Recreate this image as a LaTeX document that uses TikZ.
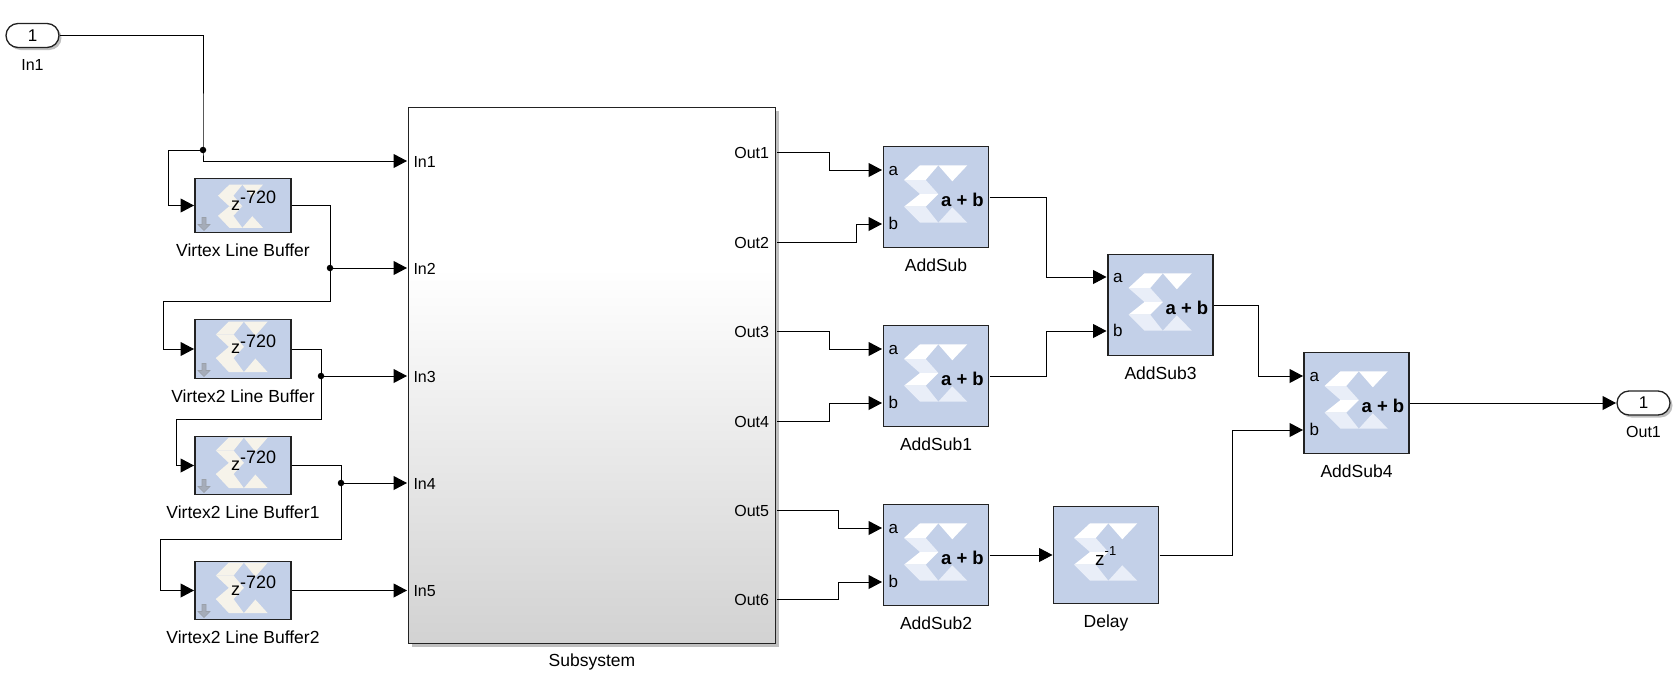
\documentclass[tikz,border=0pt]{standalone}
\usepackage{fontspec}
\setmainfont{Liberation Sans}
\usetikzlibrary{arrows.meta,positioning,shadows,shapes.misc}

\definecolor{blockblue}{HTML}{C3D0E8}
\definecolor{logolight}{HTML}{E9EEF8}
\definecolor{logocream}{HTML}{F6F3EA}
\definecolor{frame}{HTML}{222222}
\definecolor{subgray}{HTML}{D2D2D2}
\pgfdeclareverticalshading{subfade}{100bp}{
  color(0bp)=(subgray); color(25bp)=(subgray); color(60bp)=(white); color(100bp)=(white)}

\tikzset{
  pics/xlogo/.style 2 args={code={
    \fill[#1] (-16,-31.7) -- (2.3,-31.7) -- (-10.3,-17) -- (-32,-17) -- cycle;
    \fill[#2] (-32,-17) -- (-10.3,-17) -- (2.3,-3) -- (-16,-3) -- cycle;
    \fill[#1] (-16,-3) -- (2.3,-3) -- (-10.3,9.7) -- (-32,9.7) -- cycle;
    \fill[#2] (-32,9.7) -- (-10.3,9.7) -- (2.3,25.7) -- (-16,25.7) -- cycle;
    \fill[#1] (2.3,-31.7) -- (31.3,-31.7) -- (16.3,-15.7) -- cycle;
    \fill[#2] (2.3,25.7) -- (31.3,25.7) -- (16.3,10.3) -- cycle;
  }},
  pics/droparrow/.style={code={
    \filldraw[fill=gray!45!blockblue,draw=gray!60!blockblue,line width=.6pt]
      (7,-15) -- (11,-15) -- (11,-8) -- (15,-8) -- (9,-2) -- (3,-8) -- (7,-8) -- cycle;
  }},
}

\begin{document}
\begin{tikzpicture}[x=1pt,y=-1pt,>={Triangle[length=13.5pt,width=14pt]}]
  \useasboundingbox (0,0) rectangle (1674,696);
  \begin{scope}[
    every node/.style={
      draw=frame,
      fill=blockblue,
      line width=1.8pt,
      inner sep=0pt,
      outer sep=0pt,
    },
    ]
    \node[minimum width=96pt,minimum height=54pt] (buffer)  at (243,205.5) {};
    \node[minimum width=96pt,minimum height=59pt] (buffer2) at (243,349) {};
    \node[minimum width=96pt,minimum height=58pt] (buffer3) at (243,465.5) {};
    \node[minimum width=96pt,minimum height=58pt] (buffer4) at (243,590.5) {};
    \node[minimum width=105pt,minimum height=101pt] (addsub)  at (936,197) {};
    \node[minimum width=105pt,minimum height=101pt] (addsub1) at (936,376) {};
    \node[minimum width=105pt,minimum height=101pt] (addsub2) at (936,555) {};
    \node[minimum width=105pt,minimum height=101pt] (addsub3) at (1160.5,305) {};
    \node[minimum width=105pt,minimum height=101pt] (addsub4) at (1356.5,403) {};
    \node[minimum width=105pt,minimum height=97pt]  (delay)   at (1106,555) {};
  \end{scope}
  \node[
    draw=frame,line width=1.3pt,inner sep=0pt,outer sep=0pt,
    minimum width=367pt,minimum height=536pt,
    shading=subfade,
    drop shadow={shadow xshift=3pt,shadow yshift=-3pt,fill=gray,opacity=.5},
  ] (subsystem) at (592,375.5) {};
  \begin{scope}[
    every node/.style={
      rounded rectangle,
      draw=frame,
      fill=white,
      line width=1.3pt,
      minimum width=53pt,
      minimum height=24pt,
      inner sep=0pt,
      outer sep=0pt,
      font=\fontsize{17}{20}\selectfont,
      drop shadow={shadow xshift=2.5pt,shadow yshift=-2.5pt,fill=gray,opacity=.5},
    },
    ]
    \node (port-in)  at (32.5,35.5) {1};
    \node (port-out) at (1643.5,403) {1};
  \end{scope}
  % logos under the block texts
  \pic[xscale=.71,yscale=.75] at (240.7,208.5) {xlogo={logocream}{logocream}};
  \pic[xscale=.82,yscale=.88] at (242,349.5) {xlogo={logocream}{logocream}};
  \pic[xscale=.82,yscale=.88] at (242,465.5) {xlogo={logocream}{logocream}};
  \pic[xscale=.82,yscale=.88] at (242,590.5) {xlogo={logocream}{logocream}};
  \pic at (addsub)  {xlogo={white}{logolight}};
  \pic at (addsub1) {xlogo={white}{logolight}};
  \pic at (addsub2) {xlogo={white}{logolight}};
  \pic at (addsub3) {xlogo={white}{logolight}};
  \pic at (addsub4) {xlogo={white}{logolight}};
  \pic at (delay)   {xlogo={white}{logolight}};
  \pic at (buffer.south west)  {droparrow};
  \pic at (buffer2.south west) {droparrow};
  \pic at (buffer3.south west) {droparrow};
  \pic at (buffer4.south west) {droparrow};
  \begin{scope}[
    every node/.style={
      anchor=base west,
      inner sep=0pt,
      font=\fontsize{18}{20}\selectfont,
    },
    ]
    \node (buffer-z)  at ([shift={(-12,4.5)}]buffer.center)  {z\raisebox{6.5pt}{-720}};
    \node (buffer2-z) at ([shift={(-12,4.5)}]buffer2.center) {z\raisebox{6.5pt}{-720}};
    \node (buffer3-z) at ([shift={(-12,4.5)}]buffer3.center) {z\raisebox{6.5pt}{-720}};
    \node (buffer4-z) at ([shift={(-12,4.5)}]buffer4.center) {z\raisebox{6.5pt}{-720}};
    \node (delay-z) at ([shift={(-11,10.5)}]delay.center)
    {\fontsize{19}{20}\selectfont z\raisebox{10pt}{\fontsize{13}{14}\selectfont -1}};
  \end{scope}
  \begin{scope}[
    every node/.style={
      anchor=base east,
      inner sep=0pt,
      font=\fontsize{18.5}{20}\selectfont\bfseries,
    },
    ]
    \node (addsub-sum)  at ([shift={(48,9)}]addsub.center)  {a + b};
    \node (addsub1-sum) at ([shift={(48,9)}]addsub1.center) {a + b};
    \node (addsub2-sum) at ([shift={(48,9)}]addsub2.center) {a + b};
    \node (addsub3-sum) at ([shift={(48,9)}]addsub3.center) {a + b};
    \node (addsub4-sum) at ([shift={(48,9)}]addsub4.center) {a + b};
  \end{scope}
  \begin{scope}[
    every node/.style={
      anchor=west,
      inner xsep=5.5pt,
      inner ysep=0pt,
      outer sep=0pt,
      text height=10pt,
      text depth=0pt,
      font=\fontsize{17}{18}\selectfont,
    },
    ]
    \node (addsub-a)  at (883,170) {a};
    \node (addsub-b)  at (883,224) {b};
    \node (addsub1-a) at (883,349) {a};
    \node (addsub1-b) at (883,403) {b};
    \node (addsub2-a) at (883,528) {a};
    \node (addsub2-b) at (883,582) {b};
    \node (addsub3-a) at (1107.5,277) {a};
    \node (addsub3-b) at (1107.5,331) {b};
    \node (addsub4-a) at (1304,376) {a};
    \node (addsub4-b) at (1304,430) {b};
  \end{scope}
  \begin{scope}[
    every node/.style={
      inner xsep=5.5pt,
      inner ysep=0pt,
      outer sep=0pt,
      text height=12pt,
      text depth=0pt,
      font=\fontsize{16}{18}\selectfont,
    },
    ]
    \node[anchor=west] (in1) at (408,161) {In1};
    \node[anchor=west] (in2) at (408,268) {In2};
    \node[anchor=west] (in3) at (408,376) {In3};
    \node[anchor=west] (in4) at (408,483) {In4};
    \node[anchor=west] (in5) at (408,590.5) {In5};
    \node[anchor=east,inner xsep=7pt] (out1) at (776,152) {Out1};
    \node[anchor=east,inner xsep=7pt] (out2) at (776,242) {Out2};
    \node[anchor=east,inner xsep=7pt] (out3) at (776,331) {Out3};
    \node[anchor=east,inner xsep=7pt] (out4) at (776,421) {Out4};
    \node[anchor=east,inner xsep=7pt] (out5) at (776,510) {Out5};
    \node[anchor=east,inner xsep=7pt] (out6) at (776,599) {Out6};
  \end{scope}
  \begin{scope}[
    every node/.style={
      inner sep=0pt,
      text height=12.5pt,
      text depth=0pt,
      font=\fontsize{17.5}{20}\selectfont,
    },
    node distance=11pt,
    ]
    \node[below=of buffer]   (buffer-label)  {Virtex Line Buffer};
    \node[below=of buffer2]  (buffer2-label) {Virtex2 Line Buffer};
    \node[below=of buffer3]  (buffer3-label) {Virtex2 Line Buffer1};
    \node[below=of buffer4]  (buffer4-label) {Virtex2 Line Buffer2};
    \node[below=of addsub]   (addsub-label)  {AddSub};
    \node[below=of addsub1]  (addsub1-label) {AddSub1};
    \node[below=of addsub2]  (addsub2-label) {AddSub2};
    \node[below=of addsub3]  (addsub3-label) {AddSub3};
    \node[below=of addsub4]  (addsub4-label) {AddSub4};
    \node[below=of delay]    (delay-label)   {Delay};
    \node[below=10pt of subsystem] (subsystem-label) {Subsystem};
    \node[below=10pt of port-in,font=\fontsize{16}{18}\selectfont]  (port-in-label)  {In1};
    \node[below=10pt of port-out,font=\fontsize{16}{18}\selectfont] (port-out-label) {Out1};
  \end{scope}
  \begin{scope}[
    every node/.style={
      circle,
      fill=black,
      inner sep=0pt,
      minimum size=6.5pt,
    },
    ]
    \node (dot1) at (203,150) {};
    \node (dot2) at (330,268) {};
    \node (dot3) at (321,376) {};
    \node (dot4) at (341,483) {};
  \end{scope}
  \begin{scope}[every path/.style={draw,line width=1pt,shorten <=1pt,shorten >=1pt}]
    \path[->] (port-in.east) -| (dot1.center) |- (in1.west);
    \path[->] (dot1.center) -- ++(-35,0) |- (buffer.west);
    \path[->] (buffer.east) -| (dot2.center) -- (in2.west);
    \path[->] (dot2.center) -- ++(0,33) -- ++(-166.5,0) |- (buffer2.west);
    \path[->] (buffer2.east) -| (dot3.center) -- (in3.west);
    \path[->] (dot3.center) -- ++(0,43) -- ++(-145,0) |- (buffer3.west);
    \path[->] (buffer3.east) -| (dot4.center) -- (in4.west);
    \path[->] (dot4.center) -- ++(0,56) -- ++(-181,0) |- (buffer4.west);
    \path[->] (buffer4.east) -- (in5.west);
    \path[->] (out1.east) -- ++(53,0) |- (addsub-a.west);
    \path[->] (out2.east) -- ++(80,0) |- (addsub-b.west);
    \path[->] (out3.east) -- ++(53,0) |- (addsub1-a.west);
    \path[->] (out4.east) -- ++(53,0) |- (addsub1-b.west);
    \path[->] (out5.east) -- ++(62,0) |- (addsub2-a.west);
    \path[->] (out6.east) -- ++(62,0) |- (addsub2-b.west);
    \path[->] (addsub.east) -- ++(58,0) |- (addsub3-a.west);
    \path[->] (addsub1.east) -- ++(58,0) |- (addsub3-b.west);
    \path[->] (addsub2.east) -- (delay.west);
    \path[->] (addsub3.east) -- ++(45.5,0) |- (addsub4-a.west);
    \path[->] (delay.east) -- ++(73.5,0) |- (addsub4-b.west);
    \path[->] (addsub4.east) -- (port-out.west);
  \end{scope}
\end{tikzpicture}
\end{document}
